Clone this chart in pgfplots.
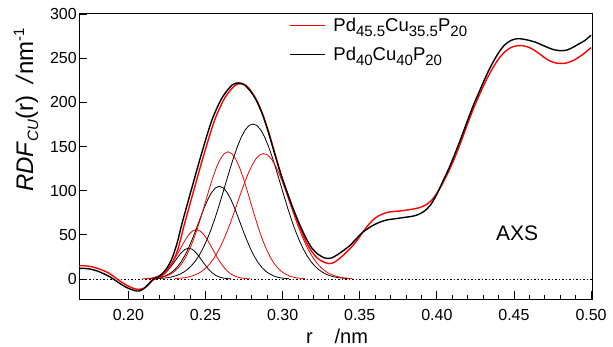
\documentclass[border=0pt]{standalone}
\usepackage{pgfplots}
\pgfplotsset{compat=1.18}
\usepackage{fontspec}
\setmainfont{Liberation Sans}
\newcommand{\lsub}[2][15]{\raisebox{-5pt}{\fontsize{#1}{#1}\selectfont #2}}
\newcommand{\lsup}[2][15]{\raisebox{9pt}{\fontsize{#1}{#1}\selectfont #2}}
\definecolor{pred}{RGB}{255,0,0}
\begin{document}
\begin{tikzpicture}
\path[use as bounding box] (-79pt,-48pt) rectangle (534pt,299pt);
\begin{axis}[
  at={(0pt,0pt)}, anchor=south west,
  width=513pt, height=286pt, scale only axis,
  xmin=0.168, xmax=0.5006, ymin=-22.6, ymax=301.1,
  xtick={0.20,0.25,0.30,0.35,0.40,0.45,0.50},
  xticklabels={0.20,0.25,0.30,0.35,0.40,0.45,0.50},
  minor x tick num=4,
  ytick={0,50,100,150,200,250,300},
  yticklabels={0,50,100,150,200,250,300},
  tick align=inside, xtick pos=left, ytick pos=left,
  major tick length=8pt, minor tick length=4pt,
  tick style={black, line width=0.8pt},
  axis line style={line width=0.8pt},
  tick label style={font=\fontsize{16}{16}\selectfont},
  xticklabel style={anchor=base, yshift=-21.5pt},
  yticklabel style={inner sep=0pt, xshift=-2pt},
  xlabel={r\hspace{1.1em}/nm},
  xlabel style={font=\fontsize{20}{20}\selectfont, at={(axis description cs:0.503,-0.154)}, anchor=base},
  ylabel={\textit{RDF}\lsub{\textit{CU}}(r)\hspace{0.5em}\textit{/}nm\lsup{-1}},
  ylabel style={font=\fontsize{24}{24}\selectfont, at={(axis description cs:-0.103,0.661)}, anchor=center},
  legend style={at={(rel axis cs:0.409,0.99)}, anchor=north west, draw=none, fill=none, inner sep=0pt,
    font=\fontsize{18.5}{22}\selectfont, row sep=10pt,
    /tikz/every odd column/.append style={column sep=6pt}},
  legend cell align=left,
  legend image code/.code={\draw[#1, line width=1.4pt] (0pt,0pt) -- (35pt,0pt);},
]
% zero line
\addplot[black, line width=1pt, dash pattern=on 1.5pt off 2pt, forget plot] coordinates {(0.168,0) (0.5006,0)};
% black small component
\addplot[black, line width=0.8pt, forget plot] coordinates {
(0.2116,0.19)(0.2141,0.46)(0.2166,1.05)(0.2191,2.2)(0.2216,4.2)(0.2241,7.4)(0.2266,11.9)(0.2291,17.5)(0.2316,23.7)(0.2341,29.4)(0.2366,33.5)(0.2391,35)(0.2416,33.5)(0.2441,29.4)(0.2466,23.7)(0.2491,17.5)(0.2516,11.9)(0.2541,7.4)(0.2566,4.2)(0.2591,2.2)(0.2616,1.05)(0.2641,0.46)(0.2666,0.19)};
% red small component
\addplot[pred, line width=0.8pt, forget plot] coordinates {
(0.2091,0.2)(0.2116,0.5)(0.2141,0.9)(0.2166,1.8)(0.2191,3.3)(0.2216,5.6)(0.2241,9.1)(0.2266,14.0)(0.2291,20.2)(0.2316,27.6)(0.2341,35.6)(0.2366,43.4)(0.2391,50.0)(0.2416,54.4)(0.2441,56)(0.2466,54.4)(0.2491,50.0)(0.2516,43.4)(0.2541,35.6)(0.2566,27.6)(0.2591,20.2)(0.2616,14.0)(0.2641,9.1)(0.2666,5.6)(0.2691,3.3)(0.2716,1.8)(0.2741,0.9)(0.2766,0.5)(0.2791,0.2)};
% black middle component
\addplot[black, line width=0.8pt, forget plot] coordinates {
(0.214,0.4)(0.2165,0.74)(0.219,1.3)(0.2215,2.2)(0.224,3.6)(0.2265,5.8)(0.229,8.9)(0.2315,13.2)(0.234,18.9)(0.2365,26.2)(0.239,35.0)(0.2415,45.3)(0.244,56.6)(0.2465,68.4)(0.249,79.8)(0.2515,90.0)(0.254,98.0)(0.2565,103.2)(0.259,105)(0.2615,103.2)(0.264,98.0)(0.2665,90.0)(0.269,79.8)(0.2715,68.4)(0.274,56.6)(0.2765,45.3)(0.279,35.0)(0.2815,26.2)(0.284,18.9)(0.2865,13.2)(0.289,8.9)(0.2915,5.8)(0.294,3.6)(0.2965,2.2)(0.299,1.3)(0.3015,0.74)(0.304,0.4)};
% red middle component
\addplot[pred, line width=0.8pt, forget plot] coordinates {
(0.2146,0.4)(0.2171,0.7)(0.2196,1.2)(0.2221,2.1)(0.2246,3.4)(0.2271,5.3)(0.2296,8.1)(0.2321,12.1)(0.2346,17.4)(0.2371,24.4)(0.2396,33.3)(0.2421,43.9)(0.2446,56.4)(0.2471,70.2)(0.2496,84.9)(0.2521,99.8)(0.2546,113.9)(0.2571,126.2)(0.2596,135.8)(0.2621,141.9)(0.2646,144)(0.2671,141.9)(0.2696,135.8)(0.2721,126.2)(0.2746,113.9)(0.2771,99.8)(0.2796,84.9)(0.2821,70.2)(0.2846,56.4)(0.2871,43.9)(0.2896,33.3)(0.2921,24.4)(0.2946,17.4)(0.2971,12.1)(0.2996,8.1)(0.3021,5.3)(0.3046,3.4)(0.3071,2.1)(0.3096,1.2)(0.3121,0.7)(0.3146,0.4)};
% black third component
\addplot[black, line width=0.8pt, forget plot] coordinates {
(0.2183,0.4)(0.2208,0.7)(0.2233,1.1)(0.2258,1.6)(0.2283,2.5)(0.2308,3.7)(0.2333,5.4)(0.2358,7.7)(0.2383,10.8)(0.2408,14.9)(0.2433,20.0)(0.2458,26.5)(0.2483,34.4)(0.2508,43.8)(0.2533,54.6)(0.2558,66.9)(0.2583,80.3)(0.2608,94.7)(0.2633,109.4)(0.2658,124.0)(0.2683,137.9)(0.2708,150.4)(0.2733,160.9)(0.2758,168.9)(0.2783,173.8)(0.2808,175.5)(0.2833,173.8)(0.2858,168.9)(0.2883,160.9)(0.2908,150.4)(0.2933,137.9)(0.2958,124.0)(0.2983,109.4)(0.3008,94.7)(0.3033,80.3)(0.3058,66.9)(0.3083,54.6)(0.3108,43.8)(0.3133,34.4)(0.3158,26.5)(0.3183,20.0)(0.3208,14.9)(0.3233,10.8)(0.3258,7.7)(0.3283,5.4)(0.3308,3.7)(0.3333,2.5)(0.3358,1.6)(0.3383,1.1)(0.3408,0.7)(0.3433,0.4)};
% red third component
\addplot[pred, line width=0.8pt, forget plot] coordinates {
(0.2302,0.5)(0.2327,0.8)(0.2352,1.2)(0.2377,1.9)(0.2402,2.9)(0.2427,4.3)(0.2452,6.2)(0.2477,8.9)(0.2502,12.5)(0.2527,17.1)(0.2552,22.8)(0.2577,29.9)(0.2602,38.4)(0.2627,48.2)(0.2652,59.1)(0.2677,71.1)(0.2702,83.6)(0.2727,96.2)(0.2752,108.4)(0.2777,119.4)(0.2802,128.8)(0.2827,136.0)(0.2852,140.5)(0.2877,142)(0.2902,140.5)(0.2927,136.0)(0.2952,128.8)(0.2977,119.4)(0.3002,108.4)(0.3027,96.2)(0.3052,83.6)(0.3077,71.1)(0.3102,59.1)(0.3127,48.2)(0.3152,38.4)(0.3177,29.9)(0.3202,22.8)(0.3227,17.1)(0.3252,12.5)(0.3277,8.9)(0.3302,6.2)(0.3327,4.3)(0.3352,2.9)(0.3377,1.9)(0.3402,1.2)(0.3427,0.8)(0.3452,0.5)};
% red main
\addplot[pred, line width=1.4pt, smooth] coordinates {
(0.168,15)(0.172,15)(0.176,14)(0.180,12)(0.184,9.5)(0.188,6)(0.192,1)(0.196,-4)(0.200,-8)(0.204,-11)(0.2067,-11.7)(0.210,-10.5)(0.213,-6.5)(0.216,-1)(0.220,2)(0.224,7)(0.228,17)(0.232,33)(0.2365,63)(0.243,104)(0.2495,144)(0.256,180)(0.2625,205)(0.269,219)(0.2726,221)(0.276,219.5)(0.279,214)(0.283,203)(0.287,187)(0.291,166)(0.295,142)(0.299,118)(0.303,97)(0.307,77)(0.311,59)(0.315,43)(0.319,31)(0.323,23)(0.327,19)(0.330,17.5)(0.333,18.5)(0.336,22)(0.340,28)(0.344,35)(0.348,43)(0.352,53)(0.356,62)(0.360,69)(0.364,73)(0.368,75.5)(0.372,76.5)(0.376,77)(0.380,78)(0.384,79)(0.388,80.5)(0.392,83)(0.396,88)(0.400,97)(0.404,109)(0.408,123)(0.412,139)(0.416,157)(0.420,176)(0.424,194)(0.428,210)(0.432,225)(0.436,238)(0.440,249)(0.444,257)(0.448,262)(0.452,264)(0.456,264)(0.460,262)(0.464,258)(0.468,253)(0.472,248)(0.476,245)(0.480,244)(0.484,244.5)(0.488,247)(0.492,251)(0.496,256)(0.500,262)};
\addlegendentry{Pd\lsub{45.5}Cu\lsub{35.5}P\lsub{20}}
% black main
\addplot[black, line width=1.4pt, smooth] coordinates {
(0.168,12)(0.172,12)(0.176,11)(0.180,9)(0.184,6)(0.188,2.5)(0.192,-2)(0.196,-6.8)(0.200,-10.5)(0.204,-13)(0.2056,-13.6)(0.208,-13)(0.211,-9.5)(0.214,-4)(0.2164,0)(0.220,3)(0.224,10)(0.228,22)(0.2315,40)(0.2348,63)(0.2413,104)(0.2478,144)(0.2542,180)(0.2607,205)(0.2672,219.5)(0.2715,222)(0.275,220)(0.279,213)(0.283,202)(0.287,186)(0.291,165)(0.295,141)(0.299,118)(0.303,98)(0.307,79)(0.311,62)(0.315,47)(0.319,35)(0.323,28)(0.327,24)(0.329,23.3)(0.332,24)(0.336,28)(0.340,33)(0.344,38.5)(0.348,46)(0.352,53)(0.356,58)(0.360,62)(0.364,65)(0.368,67)(0.372,68)(0.376,69)(0.380,70)(0.384,71)(0.388,73)(0.392,77)(0.396,84)(0.400,96)(0.404,111)(0.408,126)(0.412,143)(0.416,161)(0.420,180)(0.424,198)(0.428,214)(0.432,230)(0.436,244)(0.440,256)(0.444,265)(0.448,270)(0.452,272)(0.456,271.5)(0.460,270)(0.464,268)(0.468,265)(0.472,262)(0.476,259.5)(0.480,258.5)(0.484,259)(0.488,262)(0.492,266)(0.496,270)(0.500,276)};
\addlegendentry{Pd\lsub{40}Cu\lsub{40}P\lsub{20}}
\node[font=\fontsize{21}{21}\selectfont] at (axis cs:0.452,52) {AXS};
\end{axis}
\end{tikzpicture}
\end{document}
